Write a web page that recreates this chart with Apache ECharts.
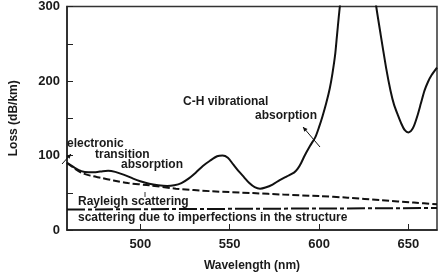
<!DOCTYPE html>
<html><head><meta charset="utf-8">
<script src="https://cdn.jsdelivr.net/npm/echarts@6/dist/echarts.min.js"></script>
<style>html,body{margin:0;padding:0;background:#fff}#c{width:440px;height:277px}</style>
</head><body><div id="c"></div>
<script>
// Total loss (solid)
const totalWl   = [459,463,467,471,475,479,482,486,491,496,500,505,510,515,519,523,527,531,535,539,543,546,549,552,555,558,561,564,567,570,574,578,582,586,588,590,592,595,598,600,602,604,606,607.5,609,610,611,612,616,621,627,631,632,634.5,637.5,640,642,644,646,648,650,651.5,653,655,657,659,661,663,666];
const totalLoss = [90,84,79,77.5,77.5,79,79.5,78,74,69,65.5,62,60,59,60,63,69,77,86,93,99,100,97,88,79,71,63,57.5,55.5,57,61,67,72,77,82,90,100,113,125,138,153,170,190,210,235,260,285,310,500,600,500,320,300,262,218,187,168,155,143,134,131,133,139,153,170,187,199,208,218];
// Rayleigh scattering + electronic transition (dashed)
const rayWl   = [459,463,467,472,478,485,493,505,520,540,563,580,600,616,635,653,666];
const rayLoss = [90,83,77,73,70,66.5,63,60,55.5,52,49.5,47.5,45.5,43.4,40,36.8,34.5];
// Scattering due to imperfections (dash-dot)
const impWl   = [459,666];
const impLoss = [27.5,29.5];
const xTicks = [500,550,600,650];
const yTicks = [0,100,200,300];

const zip = (a,b)=>a.map((v,i)=>[v,b[i]]);
const FONT = 'Liberation Sans';
const TXT = '#1a1a1a';
const chart = echarts.init(document.getElementById('c'), null, {renderer:'canvas'});
function txt(x,y,s){return {type:'text',x:x,y:y,style:{text:s,fill:TXT,font:'bold 12px "'+FONT+'"',align:'left',verticalAlign:'middle'},z:10};}
function arrow(x1,y1,x2,y2){
  const a=Math.atan2(y2-y1,x2-x1), L=5, w=0.45;
  return [{type:'line',shape:{x1,y1,x2,y2},style:{stroke:'#111',lineWidth:1},z:10},
    {type:'polygon',shape:{points:[[x2,y2],[x2-L*Math.cos(a-w),y2-L*Math.sin(a-w)],[x2-L*Math.cos(a+w),y2-L*Math.sin(a+w)]]},style:{fill:'#111'},z:10}];
}
chart.setOption({
  animation:false,
  grid:{left:60,right:3,top:5,bottom:46,show:true,borderColor:'#333',borderWidth:1.5,containLabel:false},
  xAxis:{type:'value',min:459,max:666,
    name:'Wavelength (nm)',nameLocation:'middle',nameGap:30,
    nameTextStyle:{color:TXT,fontFamily:FONT,fontWeight:'bold',fontSize:12,verticalAlign:'top'},
    axisLine:{lineStyle:{color:'#222',width:1.5}},
    axisTick:{inside:true,length:6,customValues:xTicks,lineStyle:{color:'#222',width:1}},
    axisLabel:{customValues:xTicks,margin:8,color:TXT,fontFamily:FONT,fontWeight:'bold',fontSize:13},
    splitLine:{show:false}},
  yAxis:{type:'value',min:0,max:300,interval:50,
    name:'Loss (dB/km)',nameLocation:'middle',nameGap:47,
    nameTextStyle:{color:TXT,fontFamily:FONT,fontWeight:'bold',fontSize:12},
    axisLine:{show:true,lineStyle:{color:'#222',width:1.5}},
    axisTick:{show:true,inside:true,length:6,lineStyle:{color:'#222',width:1}},
    axisLabel:{margin:7,color:TXT,fontFamily:FONT,fontWeight:'bold',fontSize:13,
      formatter:v=>yTicks.includes(v)?String(v):''},
    splitLine:{show:false}},
  series:[
    {type:'line',data:zip(totalWl,totalLoss),showSymbol:false,smooth:0.25,clip:true,
      lineStyle:{color:'#111',width:2}},
    {type:'line',data:zip(rayWl,rayLoss),showSymbol:false,smooth:0.3,clip:true,
      lineStyle:{color:'#111',width:2,type:[7,3]}},
    {type:'line',data:zip(impWl,impLoss),showSymbol:false,clip:true,
      lineStyle:{color:'#111',width:2,type:[18,3,4,3]}}
  ],
  graphic:[
    txt(67,144,'electronic'),
    txt(95,155,'transition'),
    txt(121,165,'absorption'),
    txt(183,102,'C-H vibrational'),
    txt(255,116,'absorption'),
    txt(78,202,'Rayleigh scattering'),
    txt(78,218,'scattering due to imperfections in the structure'),
    ...arrow(62,164,71,154),
    ...arrow(320,147,303,127),
    {type:'line',shape:{x1:145,y1:192,x2:145,y2:197},style:{stroke:'#333',lineWidth:1}}
  ]
});
</script></body></html>
